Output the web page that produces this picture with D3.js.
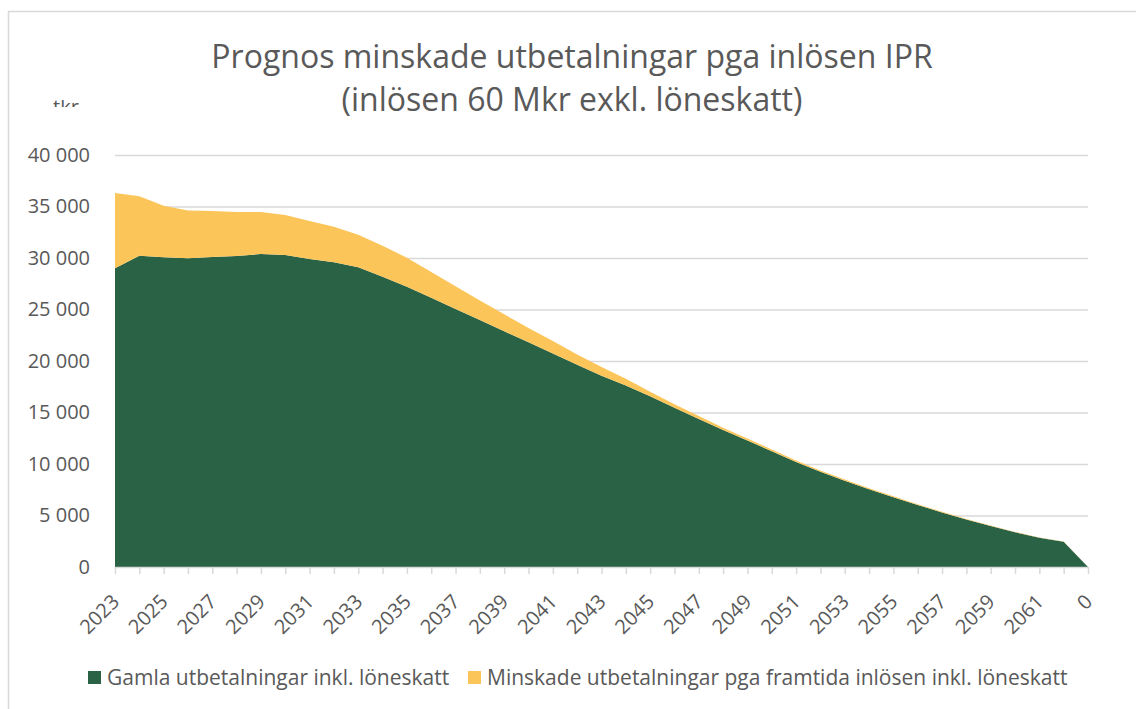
<!DOCTYPE html>
<html lang="sv">
  <head>
    <meta charset="utf-8">
    <title>Prognos minskade utbetalningar pga inlösen IPR</title>
    <style>
      body { margin: 0; padding: 0; background: #ffffff; }
      #chart { width: 1136px; height: 709px; }
      text { font-family: 'Open Sans', 'Liberation Sans', sans-serif; fill: #595959; }
    </style>
  </head>
  <body>
    <div id="chart"></div>

    <script src="https://cdnjs.cloudflare.com/ajax/libs/d3/7.8.5/d3.min.js"></script>

    <script>
    // data (tkr)
    var categories = ['2023', '2024', '2025', '2026', '2027', '2028', '2029', '2030', '2031', '2032',
                      '2033', '2034', '2035', '2036', '2037', '2038', '2039', '2040', '2041', '2042',
                      '2043', '2044', '2045', '2046', '2047', '2048', '2049', '2050', '2051', '2052',
                      '2053', '2054', '2055', '2056', '2057', '2058', '2059', '2060', '2061', '2062', '0'];
    var gamla = [29000, 30220, 30070, 29970, 30100, 30190, 30390, 30290, 29900, 29580,
                 29100, 28190, 27220, 26150, 25050, 23980, 22880, 21810, 20740, 19640,
                 18570, 17620, 16570, 15470, 14380, 13300, 12270, 11240, 10190, 9250,
                 8380, 7560, 6780, 6030, 5300, 4620, 3980, 3380, 2850, 2460, 0];
    var minskade = [7300, 5780, 5010, 4630, 4460, 4280, 4080, 3880, 3690, 3460,
                    3150, 3000, 2800, 2500, 2200, 1900, 1650, 1400, 1200, 1000,
                    850, 650, 450, 330, 270, 230, 200, 170, 150, 130,
                    110, 95, 80, 70, 60, 50, 40, 30, 25, 20, 0];
    var yTicks = [0, 5000, 10000, 15000, 20000, 25000, 30000, 35000, 40000];
    var seriesNames = ['Gamla utbetalningar inkl. löneskatt',
                       'Minskade utbetalningar pga framtida inlösen inkl. löneskatt'];
    var seriesColors = ['#296245', '#fbc55a'];
    var titleLines = ['Prognos minskade utbetalningar pga inlösen IPR',
                      '(inlösen 60 Mkr exkl. löneskatt)'];

    var width = 1136;
    var height = 709;
    var plotLeft = 115, plotRight = 1088, plotTop = 155, plotBottom = 567;

    var svg = d3.select('#chart')
                .append('svg')
                .attr('width', width)
                .attr('height', height);

    // chart frame (only top and left edge are inside the picture)
    svg.append('path')
       .attr('d', 'M8.5,' + height + 'V11.5H' + width)
       .style('fill', 'none')
       .style('stroke', '#d9d9d9')
       .style('stroke-width', 1.5);

    var x = d3.scalePoint().domain(categories).range([plotLeft, plotRight]);
    var y = d3.scaleLinear().domain([0, 40000]).range([plotBottom, plotTop]);

    var sv = d3.formatLocale({ decimal: ',', thousands: '\u00a0', grouping: [3], currency: ['', ' kr'] });
    var fmt = sv.format(',d');

    // gridlines
    svg.append('g')
       .attr('transform', 'translate(' + plotLeft + ',0)')
       .call(d3.axisLeft(y).tickValues(yTicks.slice(1)).tickSize(-(plotRight - plotLeft)).tickFormat(''))
       .call(function(g) { g.select('.domain').remove(); })
       .selectAll('line')
       .style('stroke', '#d9d9d9')
       .style('stroke-width', 1.5);

    // stacked areas
    var rows = categories.map(function(c, i) {
      return { cat: c, gamla: gamla[i], minskade: minskade[i] };
    });
    var stacked = d3.stack().keys(['gamla', 'minskade'])(rows);

    var area = d3.area()
                 .x(function(d) { return x(d.data.cat); })
                 .y0(function(d) { return y(d[0]); })
                 .y1(function(d) { return y(d[1]); });

    svg.selectAll('.layer')
       .data(stacked)
       .enter()
       .append('path')
       .attr('class', 'layer')
       .attr('d', area)
       .style('fill', function(d, i) { return seriesColors[i]; });

    // y axis labels
    var yAxis = svg.append('g')
                   .attr('transform', 'translate(' + plotLeft + ',0)')
                   .call(d3.axisLeft(y).tickValues(yTicks).tickSize(0).tickPadding(25).tickFormat(fmt));
    yAxis.select('.domain').remove();
    yAxis.selectAll('text')
         .style('font-size', '20px')
         .style('font-family', "'Open Sans', sans-serif")
         .style('fill', '#595959');

    // x axis
    var xAxis = svg.append('g')
                   .attr('transform', 'translate(0,' + plotBottom + ')')
                   .call(d3.axisBottom(x).tickSize(7).tickSizeOuter(0)
                           .tickFormat(function(d, i) { return i % 2 === 0 ? d : ''; }));
    xAxis.select('.domain').style('stroke', '#d9d9d9').style('stroke-width', 1.5);
    xAxis.selectAll('line').style('stroke', '#d9d9d9').style('stroke-width', 1.5);
    xAxis.selectAll('text')
         .attr('y', 0)
         .attr('dy', 0)
         .attr('transform', 'translate(5,36) rotate(-45)')
         .attr('text-anchor', 'end')
         .style('font-size', '20px')
         .style('font-family', "'Open Sans', sans-serif")
         .style('fill', '#595959');

    // title
    svg.selectAll('.title')
       .data(titleLines)
       .enter()
       .append('text')
       .attr('class', 'title')
       .attr('x', 572)
       .attr('y', function(d, i) { return 68 + i * 43; })
       .attr('text-anchor', 'middle')
       .style('font-size', '32px')
       .text(function(d) { return d; });

    // half hidden unit label
    svg.append('clipPath')
       .attr('id', 'unitclip')
       .append('rect')
       .attr('x', 40).attr('y', 100).attr('width', 60).attr('height', 7);
    svg.append('text')
       .attr('x', 53)
       .attr('y', 114)
       .attr('clip-path', 'url(#unitclip)')
       .style('font-size', '20px')
       .text('tkr');

    // legend
    var legendX = [88, 468];
    var legend = svg.selectAll('.legend')
                    .data(seriesNames)
                    .enter()
                    .append('g')
                    .attr('class', 'legend')
                    .attr('transform', function(d, i) { return 'translate(' + legendX[i] + ',671)'; });
    legend.append('rect')
          .attr('width', 13)
          .attr('height', 13)
          .style('fill', function(d, i) { return seriesColors[i]; });
    legend.append('text')
          .attr('x', 19)
          .attr('y', 14)
          .style('font-size', '21px')
          .text(function(d) { return d; });
    </script>
  </body>
</html>
